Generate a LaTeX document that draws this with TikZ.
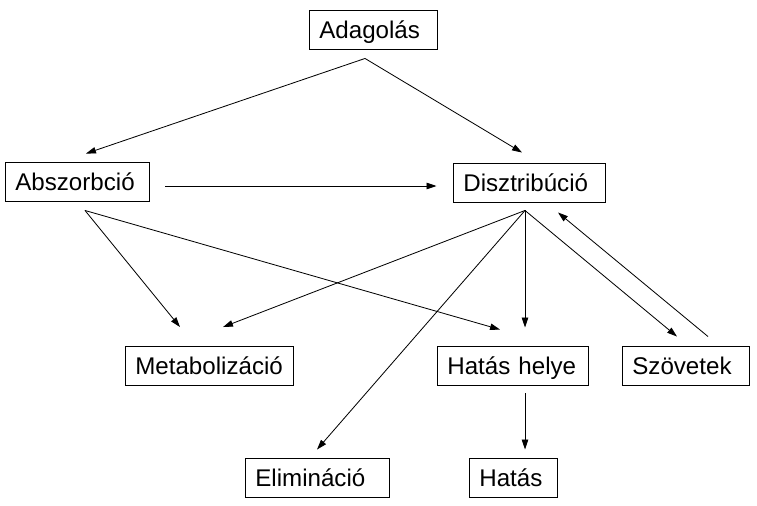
\documentclass[tikz,border=0pt]{standalone}
\usepackage{fontspec}
\setmainfont{Liberation Sans}
\usetikzlibrary{arrows.meta,calc}

\tikzset{
  box/.style={draw,line width=0.8pt,inner xsep=0.31cm,text width=#1,align=left,text height=14.7pt,text depth=0pt,minimum height=1.17cm,font=\fontsize{20.6}{24}\selectfont},
  arr/.style={-{Triangle[length=8.5pt,width=5.5pt]},line width=0.7pt}
}

\begin{document}
\begin{tikzpicture}[x=0.03cm,y=-0.03cm]
			\useasboundingbox (0,0) rectangle (757,506);
			\node[box=3.22cm] (adag) at (373,29.5) {Adagolás};
			\node[box=3.70cm] (absz) at (77,181.5) {Abszorbció};
			\node[box=3.94cm] (diszt) at (529,182.5) {Disztribúció};
			\node[box=4.42cm] (metab) at (209,366) {Metabolizáció};
			\node[box=3.91cm] (helye) at (512.5,365.5) {Hatás helye};
			\node[box=3.19cm] (szov) at (685.5,365.5) {Szövetek};
			\node[box=3.70cm] (elim) at (317,477.5) {Elimináció};
			\node[box=2.02cm] (hatas) at (513,477.5) {Hatás};
			\coordinate (adag-o) at ($(adag.south)+(-8,9)$);
			\coordinate (absz-o) at ($(absz.south)+(8,9)$);
			\coordinate (diszt-o) at ($(diszt.south)+(-4,8)$);
			\draw[arr] (adag-o) -- ($(absz.north)+(9,-8)$);
			\draw[arr] (adag-o) -- ($(diszt.north)+(-7,-10)$);
			\draw[arr] ($(absz.east)+(16,4.5)$) -- ($(diszt.west)+(-16,3.5)$);
			\draw[arr] (absz-o) -- ($(metab.north)+(-29,-19)$);
			\draw[arr] (absz-o) -- ($(helye.north)+(-12.5,-16)$);
			\draw[arr] (diszt-o) -- ($(metab.north)+(14,-19)$);
			\draw[arr] (diszt-o) -- ($(helye.north)+(12.5,-18)$);
			\draw[arr] (diszt-o) -- ($(szov.north)+(-8.5,-9)$);
			\draw[arr] (diszt-o) -- ($(elim.north)+(0,-8)$);
			\draw[arr] ($(szov.north)+(22.5,-9)$) -- ($(diszt.south)+(29,10)$);
			\draw[arr] ($(helye.south)+(12.5,8)$) -- ($(hatas.north)+(12,-8)$);
		\end{tikzpicture}
\end{document}
